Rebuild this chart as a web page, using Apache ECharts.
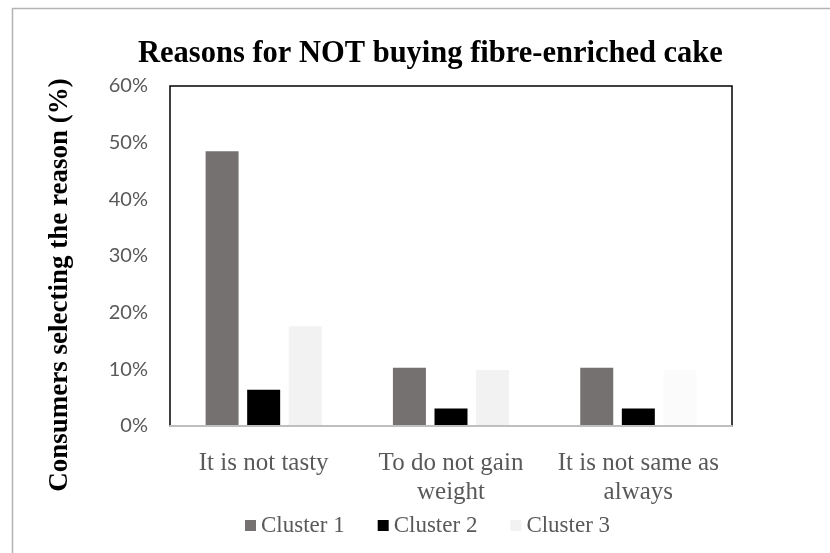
<!DOCTYPE html>
<html>
<head>
<meta charset="utf-8">
<script src="https://cdn.jsdelivr.net/npm/echarts@6/dist/echarts.min.js"></script>
<style>
  html, body { margin: 0; padding: 0; background: #ffffff; }
  #chart { width: 830px; height: 553px; }
</style>
</head>
<body>
<div id="chart"></div>
<script>
// Reasons consumers gave for not buying the fibre-enriched cake, by cluster
const categories = ['It is not tasty', 'To do not gain\nweight', 'It is not same as\nalways'];
const cluster1 = [48.5, 10.3, 10.3];
const cluster2 = [6.4, 3.1, 3.1];
const cluster3 = [17.6, 9.9, 9.9];
const seriesNames = ['Cluster 1', 'Cluster 2', 'Cluster 3'];
const yTicks = [0, 10, 20, 30, 40, 50, 60];

const serif = '"Liberation Serif", "Times New Roman", serif';
const sans = 'Lato, "Open Sans", sans-serif';

// the last Cluster 3 bar is filled a shade lighter than the others
const cluster3Fill = ['#f2f2f2', '#f2f2f2', '#fbfbfb'];

const chart = echarts.init(document.getElementById('chart'), null, { renderer: 'canvas' });

chart.setOption({
  animation: false,
  backgroundColor: '#ffffff',
  title: {
    text: 'Reasons for NOT buying fibre-enriched cake',
    left: 133,
    top: 34,
    textStyle: { fontFamily: serif, fontWeight: 'bold', fontSize: 30.5, color: '#000000' }
  },
  graphic: [{
    type: 'rect',
    shape: { x: 12.5, y: 8.5, width: 900, height: 700 },
    style: { fill: 'none', stroke: '#b3b3b3', lineWidth: 1.5 },
    z: -1
  }],
  legend: {
    data: seriesNames,
    left: 240,
    top: 509,
    icon: 'rect',
    itemWidth: 11,
    itemHeight: 11,
    itemGap: 33,
    textStyle: { fontFamily: serif, fontSize: 23, color: '#595959' }
  },
  grid: {
    left: 170,
    top: 86,
    width: 562,
    height: 340,
    show: true,
    borderColor: '#000000',
    borderWidth: 1.5,
    backgroundColor: 'transparent'
  },
  xAxis: {
    type: 'category',
    data: categories,
    z: 10,
    axisLine: { show: true, lineStyle: { color: '#bfbfbf', width: 2 } },
    axisTick: { show: false },
    axisLabel: {
      margin: 23,
      fontFamily: serif,
      fontSize: 25,
      lineHeight: 29,
      color: '#595959',
      interval: 0
    }
  },
  yAxis: {
    type: 'value',
    min: yTicks[0],
    max: yTicks[yTicks.length - 1],
    interval: 10,
    name: 'Consumers selecting the reason (%)',
    nameLocation: 'middle',
    nameRotate: 90,
    nameGap: 96,
    nameTextStyle: {
      fontFamily: serif,
      fontWeight: 'bold',
      fontSize: 27,
      color: '#000000',
      padding: [0, 58, 0, 0]
    },
    axisLine: { show: false },
    axisTick: { show: false },
    splitLine: { show: false },
    axisLabel: {
      margin: 22,
      fontFamily: sans,
      fontSize: 20,
      color: '#595959',
      formatter: v => v + '%'
    }
  },
  series: [
    {
      name: seriesNames[0], type: 'bar', data: cluster1,
      barWidth: 33, barGap: '26%',
      itemStyle: { color: '#767171' }
    },
    {
      name: seriesNames[1], type: 'bar', data: cluster2,
      barWidth: 33, barGap: '26%',
      itemStyle: { color: '#000000' }
    },
    {
      name: seriesNames[2], type: 'bar',
      data: cluster3.map((v, i) => ({ value: v, itemStyle: { color: cluster3Fill[i] } })),
      barWidth: 33, barGap: '26%',
      itemStyle: { color: '#f2f2f2' }
    }
  ]
});
</script>
</body>
</html>
